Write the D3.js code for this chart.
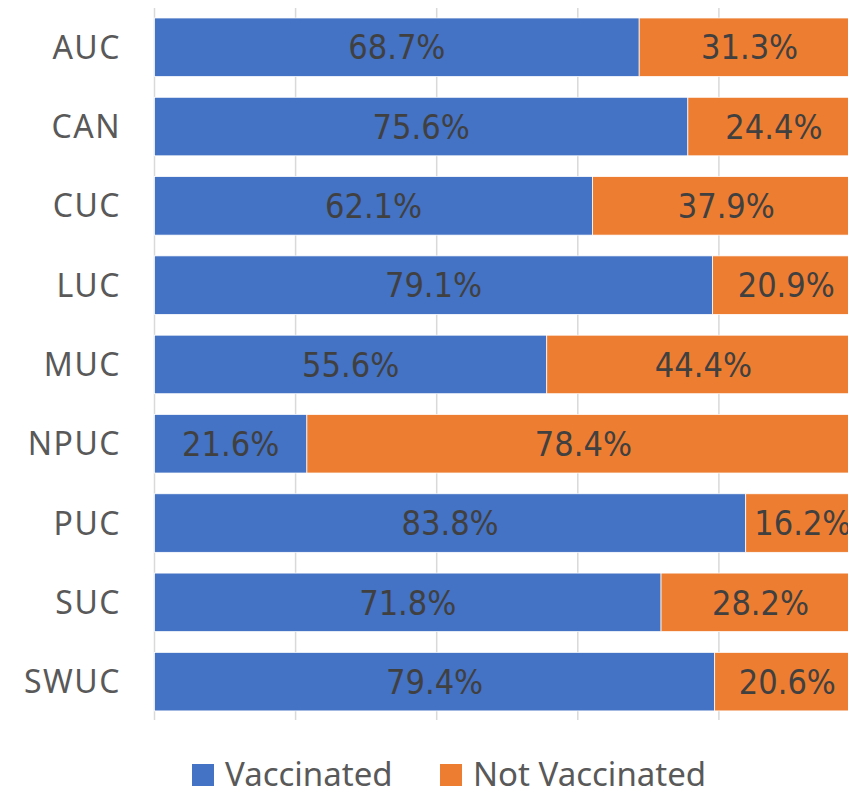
<!DOCTYPE html>
<html>
<head>
<meta charset="utf-8">
<script src="https://cdn.jsdelivr.net/npm/d3@7"></script>
<style>
  body { margin: 0; background: #fff; }
  svg { display: block; }
</style>
</head>
<body>
<div id="chart"></div>
<script>
// chart data
var categories = ['AUC', 'CAN', 'CUC', 'LUC', 'MUC', 'NPUC', 'PUC', 'SUC', 'SWUC']
var vaccinated = [68.7, 75.6, 62.1, 79.1, 55.6, 21.6, 83.8, 71.8, 79.4]
var notVaccinated = [31.3, 24.4, 37.9, 20.9, 44.4, 78.4, 16.2, 28.2, 20.6]
var seriesNames = ['Vaccinated', 'Not Vaccinated']
var xTicks = [0, 20, 40, 60, 80, 100]

var chart = {}
chart.width = 848
chart.height = 791
chart.colors = ['#4472C4', '#ED7D31']

var rows = categories.map(function (c, i) {
  return { cat: c, Vaccinated: vaccinated[i], 'Not Vaccinated': notVaccinated[i] }
})
var stacked = d3.stack().keys(seriesNames)(rows)

chart.x = d3.scaleLinear().domain([0, 100]).range([154.5, 860])
chart.y = d3.scaleBand().domain(categories).range([7.6, 721.3])
  .paddingInner(0.262).paddingOuter(0.131)

var svg = d3.select('#chart').append('svg')
  .attr('width', chart.width)
  .attr('height', chart.height)

// vertical gridlines
svg.append('g').attr('id', 'g-grid')
  .selectAll('line')
  .data(xTicks)
  .enter()
  .append('line')
  .attr('x1', function (d) { return chart.x(d) })
  .attr('x2', function (d) { return chart.x(d) })
  .attr('y1', 8)
  .attr('y2', 720)
  .attr('stroke', '#D9D9D9')
  .attr('stroke-width', 1.5)

// bars
var layers = svg.append('g').attr('id', 'g-bars')
  .selectAll('g')
  .data(stacked)
  .enter()
  .append('g')
  .attr('fill', function (d, i) { return chart.colors[i] })

layers.selectAll('rect')
  .data(function (d) { return d })
  .enter()
  .append('rect')
  .attr('x', function (d) { return chart.x(d[0]) })
  .attr('width', function (d) { return chart.x(d[1]) - chart.x(d[0]) })
  .attr('y', function (d) { return chart.y(d.data.cat) })
  .attr('height', chart.y.bandwidth())
  .attr('stroke', '#fff')
  .attr('stroke-width', 0.75)

// data labels
layers.selectAll('text')
  .data(function (d) { return d })
  .enter()
  .append('text')
  .attr('x', function (d) { return (chart.x(d[0]) + chart.x(d[1])) / 2 })
  .attr('y', function (d) { return chart.y(d.data.cat) + chart.y.bandwidth() / 2 })
  .attr('dy', '0.36em')
  .attr('text-anchor', 'middle')
  .attr('fill', '#404040')
  .attr('font-family', '"Liberation Sans Narrow", "DejaVu Sans Condensed", sans-serif')
  .attr('font-size', 34)
  .text(function (d) { return (d[1] - d[0]).toFixed(1) + '%' })

// category axis
var yAxis = d3.axisLeft(chart.y).tickSize(0).tickPadding(0)
svg.append('g')
  .attr('transform', 'translate(121,0)')
  .call(yAxis)
  .call(function (g) { g.select('.domain').remove() })
  .selectAll('text')
  .attr('fill', '#595959')
  .attr('font-family', '"Noto Sans", sans-serif')
  .attr('font-size', 32)
  .attr('letter-spacing', 1.5)
  .attr('dy', '0.36em')

// legend
var legendX = [192, 440]
var legend = svg.append('g').attr('id', 'g-legend')
  .selectAll('g')
  .data(seriesNames)
  .enter()
  .append('g')
  .attr('transform', function (d, i) { return 'translate(' + legendX[i] + ',764)' })
legend.append('rect')
  .attr('width', 22)
  .attr('height', 22)
  .attr('fill', function (d, i) { return chart.colors[i] })
legend.append('text')
  .attr('x', 33)
  .attr('y', 22)
  .attr('fill', '#595959')
  .attr('font-family', '"Noto Sans", sans-serif')
  .attr('font-size', 33)
  .text(function (d) { return d })
</script>
</body>
</html>
